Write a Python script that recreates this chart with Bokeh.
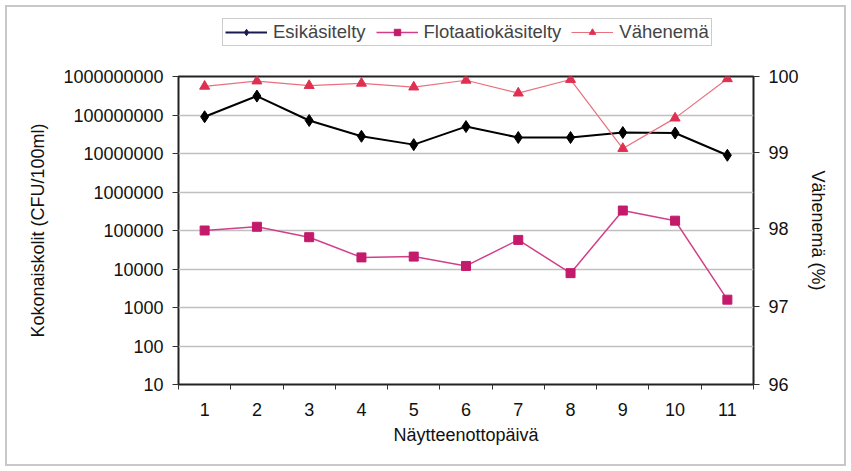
from bokeh.plotting import figure
from bokeh.layouts import column
from bokeh.models import (LinearAxis, Range1d, FixedTicker, CustomJSTickFormatter,
                          Legend, LegendItem)
from bokeh.embed import file_html
from bokeh.resources import INLINE

days = [1, 2, 3, 4, 5, 6, 7, 8, 9, 10, 11]
esikasitelty = [9.0e7, 3.1e8, 7.2e7, 2.8e7, 1.7e7, 5.0e7, 2.6e7, 2.6e7, 3.5e7, 3.4e7, 9.0e6]
flotaatio = [1.0e5, 1.25e5, 6.7e4, 2.0e4, 2.1e4, 1.2e4, 5.7e4, 7.8e3, 3.3e5, 1.8e5, 1.6e3]
vahenema = [99.87, 99.94, 99.88, 99.91, 99.86, 99.95, 99.78, 99.96, 99.05, 99.45, 99.97]
series_names = ["Esikäsitelty", "Flotaatiokäsitelty", "Vähenemä"]
left_ticks = [10, 100, 1000, 10000, 100000, 1000000, 10000000, 100000000, 1000000000]
right_ticks = [96, 97, 98, 99, 100]

FONT = "Liberation Sans"
FS = "18px"

C1_LINE, C1_MARK = "black", "black"
C2_LINE, C2_MARK = "#d0408a", "#c41a6c"
C3_LINE, C3_MARK = "#e8707f", "#e03050"

p = figure(width=851, height=405, y_axis_type="log",
           x_range=Range1d(0.5, 11.5), y_range=Range1d(10, 1e9),
           output_backend="svg", toolbar_location=None,
           min_border_left=178, min_border_right=98,
           min_border_top=10, min_border_bottom=87,
           background_fill_color="white", border_fill_color=None)
p.outline_line_color = "#222222"
p.outline_line_width = 2

p.extra_y_ranges = {"pct": Range1d(96, 100)}

# grid
p.xgrid.visible = False
p.ygrid.ticker = FixedTicker(ticks=left_ticks)
p.ygrid.grid_line_color = "#c0c0c0"
p.ygrid.grid_line_width = 1.5

# left axis
ya = p.left[0]
ya.ticker = FixedTicker(ticks=left_ticks, minor_ticks=[])
ya.formatter = CustomJSTickFormatter(code="return Math.round(tick).toString();")
ya.axis_label = "Kokonaiskolit (CFU/100ml)"

# right axis
ra = LinearAxis(y_range_name="pct", ticker=FixedTicker(ticks=right_ticks, minor_ticks=[]),
                axis_label="Vähenemä (%)")
p.add_layout(ra, "right")

# bottom axis
xa = p.below[0]
xa.ticker = FixedTicker(ticks=days, minor_ticks=[d + 0.5 for d in [0] + days])
xa.axis_label = "Näytteenottopäivä"
xa.major_tick_line_color = None
xa.minor_tick_out = 5
xa.minor_tick_in = 0
xa.minor_tick_line_color = "#333333"

for ax in (ya, ra, xa):
    ax.axis_line_color = None
    ax.major_label_text_font = FONT
    ax.major_label_text_font_size = FS
    ax.major_label_text_color = "#111111"
    ax.axis_label_text_font = FONT
    ax.axis_label_text_font_size = FS
    ax.axis_label_text_font_style = "normal"
    ax.axis_label_text_color = "#111111"
for ax in (ya, ra):
    ax.major_tick_out = 6
    ax.major_tick_in = 0
    ax.major_tick_line_color = "#333333"
    ax.minor_tick_line_color = None
    ax.major_label_standoff = 9
ya.axis_label_standoff = 12
ra.axis_label_standoff = 6
xa.major_label_standoff = 12
xa.axis_label_standoff = 6

# series
p.line(days, esikasitelty, line_color=C1_LINE, line_width=2)
p.scatter(days, esikasitelty, marker="diamond", size=12, color=C1_MARK)
p.line(days, flotaatio, line_color=C2_LINE, line_width=1.5)
p.scatter(days, flotaatio, marker="square", size=9, color=C2_MARK)
p.line(days, vahenema, line_color=C3_LINE, line_width=1.2, y_range_name="pct")
p.scatter(days, vahenema, marker="triangle", size=10, color=C3_MARK, y_range_name="pct")

# legend strip above the chart (key glyphs sit outside the visible range)
lf = figure(width=851, height=66, x_range=Range1d(0, 1), y_range=Range1d(0, 1),
            output_backend="svg", toolbar_location=None,
            x_axis_location=None, y_axis_location=None,
            min_border=0, min_border_left=0, min_border_right=0,
            min_border_top=0, min_border_bottom=0,
            background_fill_color=None, border_fill_color=None)
lf.outline_line_color = None
lf.grid.visible = False
off = ([5, 6], [5, 5])
k1 = [lf.line(*off, line_color="#1a1a50", line_width=2),
      lf.scatter(*off, marker="diamond", size=11, color="#1a1a50")]
k2 = [lf.line(*off, line_color=C2_LINE, line_width=1.5),
      lf.scatter(*off, marker="square", size=9, color=C2_MARK)]
k3 = [lf.line(*off, line_color=C3_LINE, line_width=1.2),
      lf.scatter(*off, marker="triangle", size=9, color=C3_MARK)]
legend = Legend(items=[LegendItem(label=series_names[0], renderers=k1),
                       LegendItem(label=series_names[1], renderers=k2),
                       LegendItem(label=series_names[2], renderers=k3)],
                orientation="horizontal", location=(44, 20),
                border_line_color="#999999", border_line_width=1,
                label_text_font=FONT, label_text_font_size="18.5px",
                glyph_width=42, glyph_height=16, label_standoff=6, spacing=10,
                padding=2, margin=0, background_fill_color="white",
                background_fill_alpha=1)
lf.add_layout(legend, "center")

layout = column(lf, p, spacing=0,
                styles={"outline": "2px solid #c8c8c8", "outline-offset": "-7px",
                        "background-color": "white"})
open("out.html", "w").write(file_html(layout, INLINE))
